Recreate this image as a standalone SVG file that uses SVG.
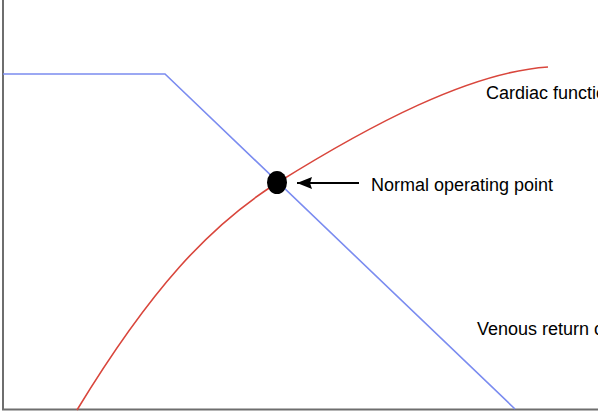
<svg xmlns="http://www.w3.org/2000/svg" width="598" height="413" viewBox="0 0 598 413">
<defs>
<style>
.lbl{font-family:"Liberation Sans",Arial,sans-serif;font-size:18px;fill:#000}
.axis{stroke:#6e6e6e;stroke-width:2;fill:none}
</style>
<marker id="ah" markerWidth="15" markerHeight="12" refX="15" refY="6" orient="auto" markerUnits="userSpaceOnUse">
<path d="M0,0 L15,6 L0,12 L2,6 Z" fill="#000"/>
</marker>
</defs>
<rect width="598" height="413" fill="#fff"/>
<g id="axes">
<path class="axis" d="M3,0 V409.5 H598"/>
</g>
<g id="connectors">
<path id="venous-return" d="M3,74 H165 L515,409" fill="none" stroke="#7b8cf0" stroke-width="1.6"/>
<path id="cardiac-function" d="M77,410 C150,290 210,225 277,183 C370,125 470,72 548,67" fill="none" stroke="#d9463c" stroke-width="1.6"/>
<line x1="359" y1="183" x2="297" y2="183" stroke="#000" stroke-width="2" marker-end="url(#ah)"/>
</g>
<g id="operating-point">
<ellipse cx="277" cy="182.5" rx="10" ry="11.5" fill="#000"/>
</g>
<g id="labels">
<text class="lbl" x="486" y="99">Cardiac function</text>
<text class="lbl" x="371" y="191">Normal operating point</text>
<text class="lbl" x="477" y="335">Venous return curve</text>
</g>
</svg>
